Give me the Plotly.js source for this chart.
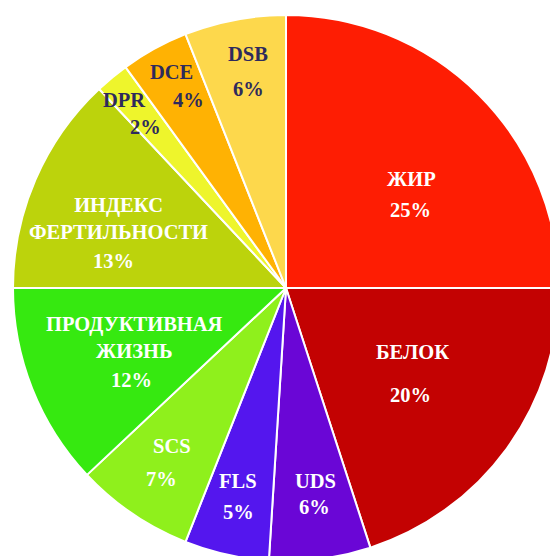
<!DOCTYPE html>
<html>
<head>
<meta charset="utf-8">
<script src="https://cdn.plot.ly/plotly-3.0.1.min.js"></script>
<style>
html,body{margin:0;padding:0;width:550px;height:556px;overflow:hidden;background:#fff;}
#chart{position:absolute;left:12.5px;top:15px;width:546px;height:546px;}
</style>
</head>
<body>
<div id="chart"></div>
<script>
// ---- data ----
const labels = ["ЖИР", "БЕЛОК", "UDS", "FLS", "SCS", "ПРОДУКТИВНАЯ<br>ЖИЗНЬ", "ИНДЕКС<br>ФЕРТИЛЬНОСТИ", "DPR", "DCE", "DSB"];
const values = [25, 20, 6, 5, 7, 12, 13, 2, 4, 6];

// ---- style ----
const colors = ["#fe1d03", "#c30202", "#6a06d6", "#5416ee", "#8ff01c", "#36e910", "#bcd30c", "#eef52c", "#ffb203", "#fdd84c"];
const textColors = ["#ffffff", "#ffffff", "#ffffff", "#ffffff", "#ffffff", "#ffffff", "#ffffff", "#2e2a5c", "#2e2a5c", "#2e2a5c"];
// label anchor: fraction of radius along each slice's mid-angle, plus pixel nudges
const labelR = [0.566, 0.556, 0.762, 0.783, 0.775, 0.606, 0.649, 0.845, 0.836, 0.804];
const lblOff = [[16,0],[4,-25],[3.5,-13],[-1,-16],[4.5,-17],[2.5,-11.5],[-5,1],[-14.5,-10],[-4.5,-16],[3.5,-18]];
const pctOff = [[15,31],[2,18],[2.5,13],[-1,15],[-5.5,16],[-0.5,31],[-10,43],[6.5,17],[12.5,12],[3.5,17]];
const fontFamily = "Liberation Serif";
const fontSize = 20.5;

const total = values.reduce((a, b) => a + b, 0);
const annotations = [];
let cum = 0;
values.forEach((v, i) => {
  const mid = (cum + v / 2) / total * 2 * Math.PI; // clockwise from 12 o'clock
  cum += v;
  const x = 0.5 + 0.5 * labelR[i] * Math.sin(mid);
  const y = 0.5 + 0.5 * labelR[i] * Math.cos(mid);
  const font = {family: fontFamily, size: fontSize, color: textColors[i], weight: "bold"};
  annotations.push({
    xref: "paper", yref: "paper", x: x, y: y, xanchor: "center", yanchor: "middle",
    text: labels[i], showarrow: false, font: font,
    xshift: lblOff[i][0], yshift: -lblOff[i][1]
  });
  annotations.push({
    xref: "paper", yref: "paper", x: x, y: y, xanchor: "center", yanchor: "middle",
    text: Math.round(v / total * 100) + "%", showarrow: false, font: font,
    xshift: pctOff[i][0], yshift: -pctOff[i][1]
  });
});

const trace = {
  type: "pie",
  labels: labels,
  values: values,
  sort: false,
  direction: "clockwise",
  rotation: 0,
  marker: {colors: colors, line: {color: "#ffffff", width: 2}},
  textinfo: "none",
  hoverinfo: "label+percent",
  domain: {x: [0, 1], y: [0, 1]}
};

const layout = {
  width: 546, height: 546,
  margin: {l: 0, r: 0, t: 0, b: 0},
  showlegend: false,
  paper_bgcolor: "rgba(0,0,0,0)",
  annotations: annotations
};

Plotly.newPlot("chart", [trace], layout, {displayModeBar: false, staticPlot: true});
</script>
</body>
</html>
